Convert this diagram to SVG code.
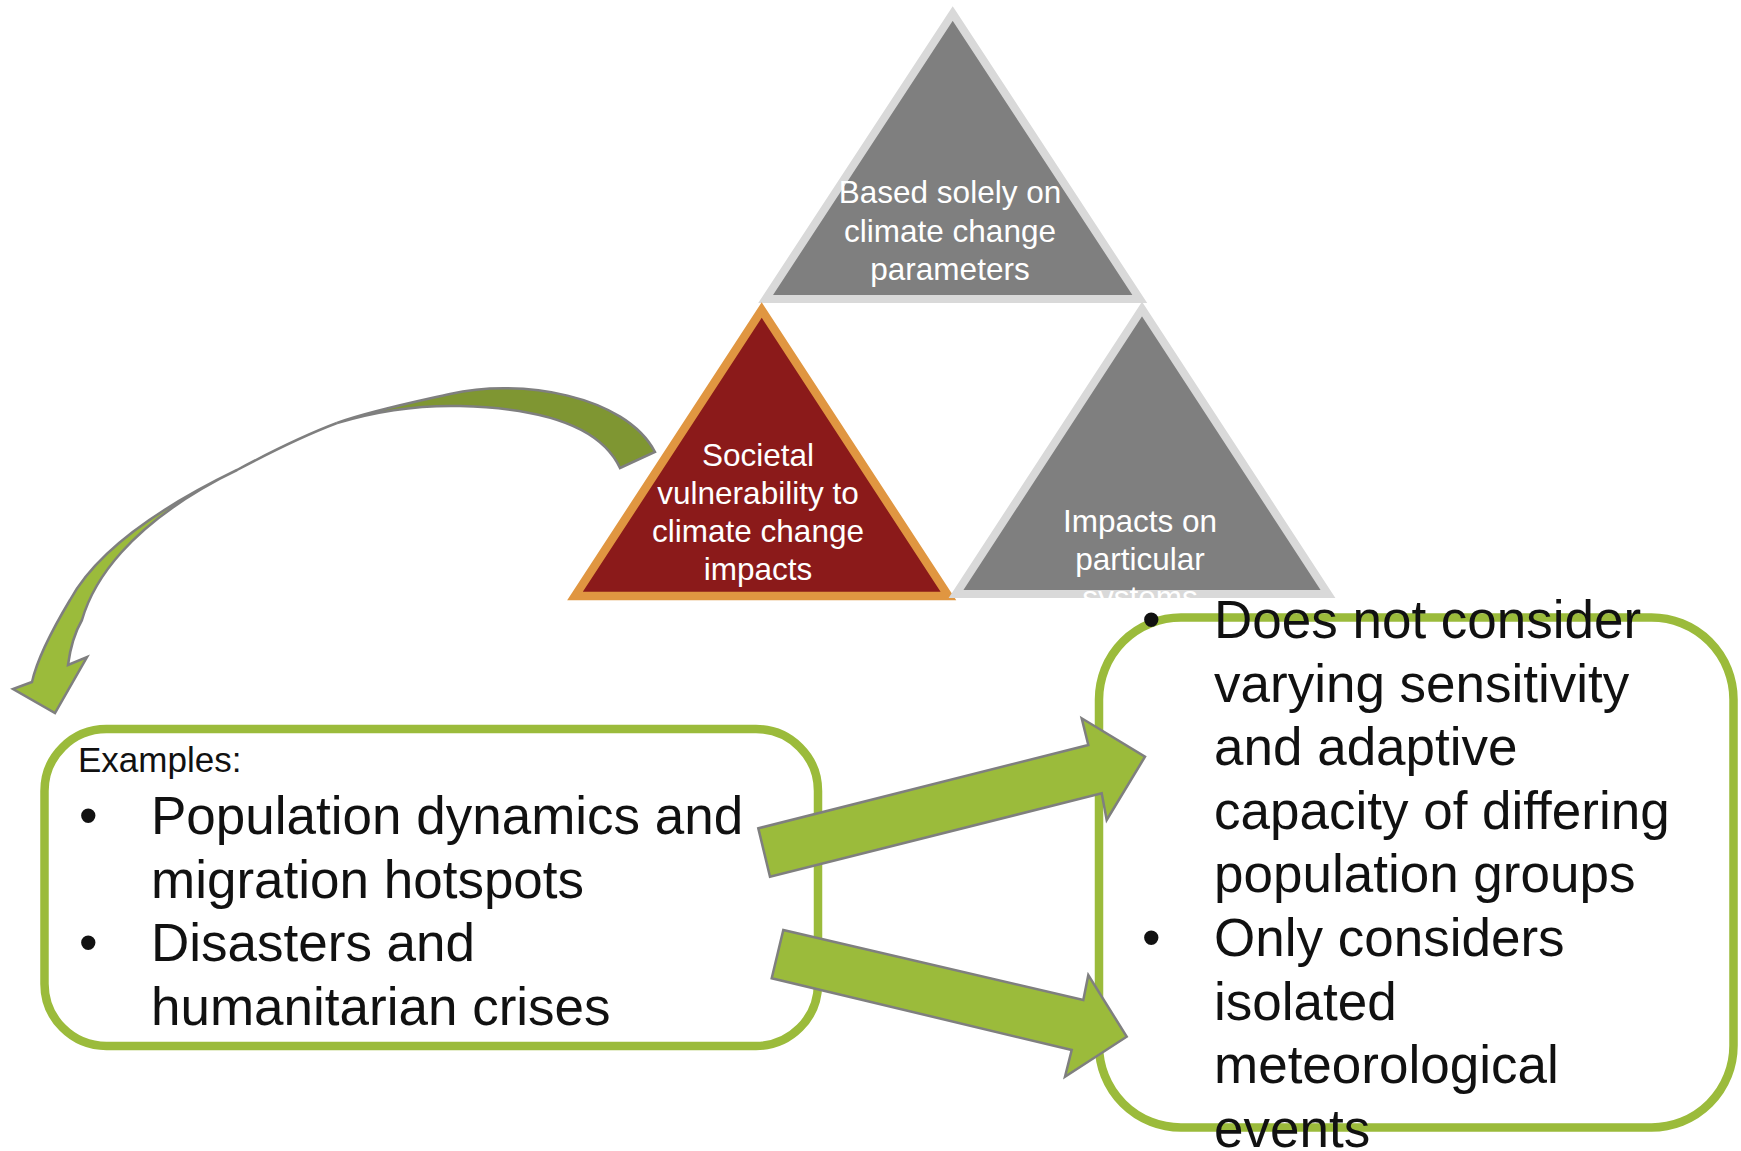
<svg xmlns="http://www.w3.org/2000/svg" width="1741" height="1151" viewBox="0 0 1741 1151">
<style>
.tri-gray{fill:#7f7f7f;stroke:#d9d9d9;stroke-width:8;stroke-linejoin:miter}
.tri-red{fill:#8b1a1a;stroke:#e09641;stroke-width:8.5;stroke-linejoin:miter}
.tlabel{font-family:"Liberation Sans",Arial,sans-serif;font-size:31.5px;fill:#ffffff;text-anchor:middle}
.box{fill:#ffffff;stroke:#9bbb3b;stroke-width:8.5}
.big{font-family:"Liberation Sans",Arial,sans-serif;font-size:53px;fill:#111111}
.small{font-family:"Liberation Sans",Arial,sans-serif;font-size:35px;fill:#111111}
.arrow{fill:#9bbb3b;stroke:#7f7f7f;stroke-width:2.5;stroke-linejoin:miter}
.arrow-back{fill:#7f9632;stroke:#7f7f7f;stroke-width:2.5}
</style>
<rect width="1741" height="1151" fill="#ffffff"/>

<g id="node-top">
<polygon class="tri-gray" points="952.7,13.5 1139.8,299 765.6,299"/>
<text class="tlabel" x="950" y="203">Based solely on</text>
<text class="tlabel" x="950" y="241.5">climate change</text>
<text class="tlabel" x="950" y="280">parameters</text>
</g>

<g id="node-societal">
<polygon class="tri-red" points="761.7,310 948.4,596 575,596"/>
<text class="tlabel" x="758" y="465.5">Societal</text>
<text class="tlabel" x="758" y="503.5">vulnerability to</text>
<text class="tlabel" x="758" y="541.5">climate change</text>
<text class="tlabel" x="758" y="579.5">impacts</text>
</g>

<g id="node-impacts">
<polygon class="tri-gray" points="1142,309 1328,594 956,594"/>
<text class="tlabel" x="1140" y="532">Impacts on</text>
<text class="tlabel" x="1140" y="570">particular</text>
<text class="tlabel" x="1140" y="608">systems</text>
</g>

<g id="node-examples">
<rect class="box" x="44.5" y="729" width="773.5" height="317" rx="62" ry="62"/>
<text class="small" x="78" y="772">Examples:</text>
<text class="big" x="79" y="834">•</text>
<text class="big" x="151" y="834">Population dynamics and</text>
<text class="big" x="151" y="897.5">migration hotspots</text>
<text class="big" x="79" y="961">•</text>
<text class="big" x="151" y="961">Disasters and</text>
<text class="big" x="151" y="1024.5">humanitarian crises</text>
</g>

<g id="node-limitations">
<rect class="box" x="1099" y="617.5" width="634.5" height="510" rx="82" ry="82"/>
</g>

<g id="connectors">
<path class="arrow-back" d="M655,452 C625,395 520,378 450,394 C410,403 370,411 337,423 C380,410 420,405 460,406 C540,408 600,425 620,468 Z"/>
<path class="arrow" d="M337,423 C300,437 265,455 237,470 C175,500 100,545 70,600 C55,625 38,655 32,682 L13,689 L55,713 L87,657 L68,665 C70,650 75,632 82,620 C92,585 125,525 237,470 C265,455 300,437 337,423 Z"/>
<polygon class="arrow" points="758.3,828.3 1088.3,745 1081.7,718.3 1145,756.7 1106.7,820 1101.7,793.3 770,876.7"/>
<polygon class="arrow" points="783.3,930 1083.3,1000 1088.3,975 1126.7,1036.7 1065,1076.7 1071.7,1050 771.7,978.3"/>
</g>

<g id="node-limitations-text">
<text class="big" x="1142" y="638">•</text>
<text class="big" x="1214" y="638">Does not consider</text>
<text class="big" x="1214" y="701.5">varying sensitivity</text>
<text class="big" x="1214" y="765">and adaptive</text>
<text class="big" x="1214" y="828.5">capacity of differing</text>
<text class="big" x="1214" y="892">population groups</text>
<text class="big" x="1142" y="956">•</text>
<text class="big" x="1214" y="956">Only considers</text>
<text class="big" x="1214" y="1019.5">isolated</text>
<text class="big" x="1214" y="1083">meteorological</text>
<text class="big" x="1214" y="1146.5">events</text>
</g>
</svg>
